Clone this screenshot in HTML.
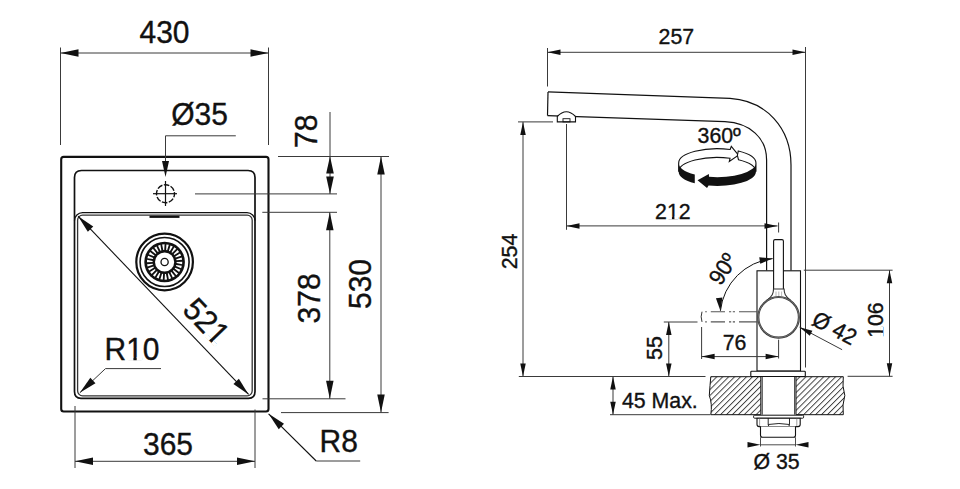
<!DOCTYPE html>
<html><head><meta charset="utf-8"><style>
html,body{margin:0;padding:0;background:#fff;width:960px;height:489px;overflow:hidden}
svg{display:block}
text{font-family:"Liberation Sans",sans-serif;fill:#111;stroke:#111;stroke-width:0.35px}
</style></head><body>
<svg width="960" height="489" viewBox="0 0 960 489">
<line x1="60.5" y1="47.5" x2="60.5" y2="145" stroke="#3a3a3a" stroke-width="1" />
<line x1="268.5" y1="47.5" x2="268.5" y2="145" stroke="#3a3a3a" stroke-width="1" />
<line x1="60.5" y1="53" x2="268.5" y2="53" stroke="#3a3a3a" stroke-width="1" />
<polygon points="60.50,53.00 78.50,49.25 78.50,56.75" fill="#111"/>
<polygon points="268.50,53.00 250.50,56.75 250.50,49.25" fill="#111"/>
<g transform="translate(164.5 42.5) scale(1 1.07)"><text font-size="30" text-anchor="middle" >430</text></g>
<rect x="61.2" y="156.9" width="207.3" height="254.6" rx="2.5" fill="none" stroke="#111" stroke-width="2.1"/>
<path d="M74.5,391.5 L74.5,177.5 Q74.5,170.5 81.5,170.5 L248,170.5 Q255,170.5 255,177.5 L255,391.5 Q255,398.3 248.5,398.3 L81,398.3 Q74.5,398.3 74.5,391.5 Z" fill="none" stroke="#111" stroke-width="1.7"/>
<path d="M74.5,220.6 A8,8 0 0 1 82.5,212.6 L247,212.6 A8,8 0 0 1 255,220.6" fill="none" stroke="#111" stroke-width="1.3"/>
<rect x="77.6" y="215.2" width="174.6" height="180.6" rx="5" fill="none" stroke="#333" stroke-width="1.3"/>
<line x1="149.5" y1="216.8" x2="179.5" y2="216.8" stroke="#111" stroke-width="2.2" />
<circle cx="165.5" cy="193.7" r="9" fill="none" stroke="#111" stroke-width="1.4" stroke-dasharray="5.6 1.47" stroke-dashoffset="2"/>
<line x1="153" y1="193.7" x2="177" y2="193.7" stroke="#111" stroke-width="1.2" />
<line x1="165.5" y1="181" x2="165.5" y2="206" stroke="#111" stroke-width="1.2" />
<line x1="165.5" y1="135.8" x2="235.8" y2="135.8" stroke="#3a3a3a" stroke-width="1" />
<line x1="165.5" y1="135.8" x2="165.5" y2="168" stroke="#3a3a3a" stroke-width="1" />
<polygon points="165.50,177.00 162.00,161.00 169.00,161.00" fill="#111"/>
<g transform="translate(199.5 125) scale(1 1.07)"><text font-size="30" text-anchor="middle" >Ø35</text></g>
<line x1="278" y1="156.5" x2="389" y2="156.5" stroke="#3a3a3a" stroke-width="1" />
<line x1="195" y1="193.9" x2="337" y2="193.9" stroke="#3a3a3a" stroke-width="1" />
<line x1="262.3" y1="212.3" x2="337" y2="212.3" stroke="#3a3a3a" stroke-width="1" />
<line x1="262.5" y1="398.8" x2="345.5" y2="398.8" stroke="#3a3a3a" stroke-width="1" />
<line x1="281" y1="412.6" x2="388.6" y2="412.6" stroke="#3a3a3a" stroke-width="1" />
<line x1="330" y1="112" x2="330" y2="193.9" stroke="#3a3a3a" stroke-width="1" />
<polygon points="330.00,156.30 333.80,173.60 326.20,173.60" fill="#111"/>
<polygon points="330.00,193.90 326.20,176.60 333.80,176.60" fill="#111"/>
<g transform="translate(316.5 131.3) rotate(-90) scale(1 1.07)"><text font-size="30" text-anchor="middle" >78</text></g>
<line x1="329.8" y1="212.3" x2="329.8" y2="398.8" stroke="#3a3a3a" stroke-width="1" />
<polygon points="329.80,212.30 333.55,230.30 326.05,230.30" fill="#111"/>
<polygon points="329.80,398.80 326.05,380.80 333.55,380.80" fill="#111"/>
<g transform="translate(319.5 298.4) rotate(-90) scale(1 1.07)"><text font-size="30" text-anchor="middle" >378</text></g>
<line x1="381" y1="156.5" x2="381" y2="412.6" stroke="#3a3a3a" stroke-width="1" />
<polygon points="381.00,156.50 384.75,174.50 377.25,174.50" fill="#111"/>
<polygon points="381.00,412.60 377.25,394.60 384.75,394.60" fill="#111"/>
<g transform="translate(371 284) rotate(-90) scale(1 1.07)"><text font-size="30" text-anchor="middle" >530</text></g>
<line x1="75" y1="406" x2="75" y2="468" stroke="#3a3a3a" stroke-width="1" />
<line x1="255" y1="409.5" x2="255" y2="468" stroke="#3a3a3a" stroke-width="1" />
<line x1="75" y1="461.3" x2="255" y2="461.3" stroke="#3a3a3a" stroke-width="1" />
<polygon points="75.00,461.30 93.00,457.55 93.00,465.05" fill="#111"/>
<polygon points="255.00,461.30 237.00,465.05 237.00,457.55" fill="#111"/>
<g transform="translate(168 454.5) scale(1 1.07)"><text font-size="30" text-anchor="middle" >365</text></g>
<line x1="268.6" y1="413.8" x2="316.2" y2="461" stroke="#111" stroke-width="1.1" />
<line x1="316.2" y1="461" x2="360.2" y2="461" stroke="#3a3a3a" stroke-width="1" />
<polygon points="268.60,413.80 284.02,423.81 278.74,429.14" fill="#111"/>
<g transform="translate(319.5 451.5) scale(1 1.07)"><text font-size="30" text-anchor="start" >R8</text></g>
<line x1="105.5" y1="368.6" x2="161" y2="368.6" stroke="#3a3a3a" stroke-width="1" />
<line x1="105.5" y1="368.6" x2="79.8" y2="392.8" stroke="#3a3a3a" stroke-width="1" />
<polygon points="79.80,392.80 90.33,377.73 95.48,383.19" fill="#111"/>
<g transform="translate(104.5 360) scale(1 1.07)"><text font-size="30" text-anchor="start" >R10</text><rect x="22.87" y="-2.85" width="6.03" height="3.60" fill="#fff"/><rect x="32.17" y="-2.85" width="5.40" height="3.60" fill="#fff"/></g>
<line x1="78.1" y1="216.2" x2="248.6" y2="394.4" stroke="#111" stroke-width="1.1" />
<polygon points="78.10,216.20 93.25,226.61 87.83,231.80" fill="#111"/>
<polygon points="248.60,394.40 233.45,383.99 238.87,378.80" fill="#111"/>
<g transform="translate(198.5 329) rotate(46.3) scale(1 1.07)"><text font-size="30" text-anchor="middle" >521</text><rect x="9.54" y="-2.85" width="6.03" height="3.60" fill="#fff"/><rect x="18.84" y="-2.85" width="5.40" height="3.60" fill="#fff"/></g>
<circle cx="164.6" cy="262" r="28.3" fill="#fff" stroke="#111" stroke-width="2.2"/>
<circle cx="164.6" cy="262" r="24.5" fill="none" stroke="#111" stroke-width="1.6"/>
<circle cx="164.6" cy="262" r="20.3" fill="#111"/>
<path d="M176.56,263.10 L182.12,264.13 L182.24,261.63 L176.61,262.10ZM175.95,265.93 L181.10,268.26 L181.82,265.86 L176.24,264.97ZM174.68,268.53 L179.12,272.02 L180.39,269.87 L175.19,267.67ZM172.82,270.75 L176.30,275.21 L178.05,273.42 L173.52,270.04ZM170.49,272.47 L172.80,277.62 L174.92,276.31 L171.34,271.94ZM167.81,273.57 L168.82,279.13 L171.20,278.36 L168.76,273.27ZM164.95,274.01 L164.60,279.64 L167.09,279.47 L165.95,273.93ZM162.07,273.74 L160.38,279.13 L162.84,279.56 L163.05,273.91ZM159.33,272.79 L156.40,277.62 L158.69,278.62 L160.25,273.19ZM156.90,271.22 L152.90,275.21 L154.88,276.73 L157.69,271.83ZM154.92,269.11 L150.08,272.02 L151.64,273.97 L155.54,269.89ZM153.50,266.58 L148.10,268.26 L149.15,270.52 L153.92,267.49ZM152.72,263.80 L147.08,264.13 L147.56,266.58 L152.91,264.78ZM152.64,260.90 L147.08,259.87 L146.96,262.37 L152.59,261.90ZM153.25,258.07 L148.10,255.74 L147.38,258.14 L152.96,259.03ZM154.52,255.47 L150.08,251.98 L148.81,254.13 L154.01,256.33ZM156.38,253.25 L152.90,248.79 L151.15,250.58 L155.68,253.96ZM158.71,251.53 L156.40,246.38 L154.28,247.69 L157.86,252.06ZM161.39,250.43 L160.38,244.87 L158.00,245.64 L160.44,250.73ZM164.25,249.99 L164.60,244.36 L162.11,244.53 L163.25,250.07ZM167.13,250.26 L168.82,244.87 L166.36,244.44 L166.15,250.09ZM169.87,251.21 L172.80,246.38 L170.51,245.38 L168.95,250.81ZM172.30,252.78 L176.30,248.79 L174.32,247.27 L171.51,252.17ZM174.28,254.89 L179.12,251.98 L177.56,250.03 L173.66,254.11ZM175.70,257.42 L181.10,255.74 L180.05,253.48 L175.28,256.51ZM176.48,260.20 L182.12,259.87 L181.64,257.42 L176.29,259.22Z" fill="#fff"/>
<circle cx="164.6" cy="262" r="9.6" fill="#fff"/>
<circle cx="164.6" cy="262" r="3.6" fill="none" stroke="#111" stroke-width="1.3"/>
<line x1="547.5" y1="48" x2="547.5" y2="86.5" stroke="#3a3a3a" stroke-width="1" />
<line x1="805.5" y1="47" x2="805.5" y2="367.5" stroke="#3a3a3a" stroke-width="1" />
<line x1="547.5" y1="52.3" x2="805.5" y2="52.3" stroke="#3a3a3a" stroke-width="1" />
<polygon points="547.50,52.30 560.50,49.55 560.50,55.05" fill="#111"/>
<polygon points="805.50,52.30 792.50,55.05 792.50,49.55" fill="#111"/>
<g transform="translate(676.3 44) scale(1 1.07)"><text font-size="21.3" text-anchor="middle" >257</text></g>
<path d="M548,91.9 L730,98.3 C766,100.5 791,128 791,165 L791,270.5" fill="none" stroke="#111" stroke-width="1.2"/>
<path d="M547.5,115.6 L725,121.7 C750,123 766.6,138 766.6,160 L766.6,270.5" fill="none" stroke="#111" stroke-width="1.2"/>
<line x1="548" y1="91.9" x2="547.5" y2="115.6" stroke="#111" stroke-width="1.2" />
<path d="M557.3,121.9 L557.3,116.5 Q566.3,107 575.5,116.5 L575.5,121.9 Z" fill="#fff" stroke="#111" stroke-width="1.1"/>
<rect x="563" y="118.7" width="7" height="3.2" fill="none" stroke="#111" stroke-width="0.9"/>
<line x1="518" y1="121.9" x2="553" y2="121.9" stroke="#3a3a3a" stroke-width="1" />
<line x1="523" y1="121.9" x2="523" y2="376.5" stroke="#3a3a3a" stroke-width="1" />
<polygon points="523.00,121.90 525.75,134.90 520.25,134.90" fill="#111"/>
<polygon points="523.00,376.50 520.25,363.50 525.75,363.50" fill="#111"/>
<g transform="translate(517 251.5) rotate(-90) scale(1 1.07)"><text font-size="21.3" text-anchor="middle" >254</text></g>
<line x1="566.5" y1="124" x2="566.5" y2="229.8" stroke="#3a3a3a" stroke-width="1" />
<line x1="566.5" y1="225.9" x2="777.5" y2="225.9" stroke="#3a3a3a" stroke-width="1" />
<polygon points="566.50,225.90 579.50,223.15 579.50,228.65" fill="#111"/>
<polygon points="777.50,225.90 764.50,228.65 764.50,223.15" fill="#111"/>
<line x1="778.6" y1="222.5" x2="778.6" y2="232.5" stroke="#3a3a3a" stroke-width="1" />
<g transform="translate(672.8 218.8) scale(1 1.07)"><text font-size="21.3" text-anchor="middle" >212</text><rect x="-5.07" y="-2.02" width="4.19" height="2.56" fill="#fff"/><rect x="1.62" y="-2.02" width="3.75" height="2.56" fill="#fff"/></g>
<g transform="translate(719.2 143.4) scale(1 1.07)"><text font-size="21.3" text-anchor="middle" >360º</text></g>
<rect x="757" y="270.8" width="43.5" height="100.2" fill="#fff" stroke="#111" stroke-width="1.1"/>
<path d="M773.6,291 L773.6,241 Q773.6,239.6 775,239.6 L782,239.6 Q783.4,239.6 783.4,241 L783.4,291" fill="#fff" stroke="#111" stroke-width="1.1"/>
<path d="M773.5,289 C773.5,294 772,296 768,299.5 L789.5,299.5 C785.5,296 784.1,294 784.1,289 Z" fill="#fff" stroke="#333" stroke-width="1.1"/>
<line x1="776" y1="291.5" x2="776" y2="296" stroke="#888" stroke-width="0.6" />
<line x1="778.8" y1="291.5" x2="778.8" y2="296" stroke="#888" stroke-width="0.6" />
<line x1="781.6" y1="291.5" x2="781.6" y2="296" stroke="#888" stroke-width="0.6" />
<circle cx="778.6" cy="317.3" r="20.3" fill="#fff" stroke="#333" stroke-width="2.1"/>
<circle cx="778.6" cy="317.3" r="20.3" fill="none" stroke="#aaa" stroke-width="0.5"/>
<path d="M757.5,311.7 L703,311.7" fill="none" stroke="#555" stroke-width="1.1" stroke-dasharray="18.5 4 2.2 1.6 2.2 4 14.2 4 1.6 100"/>
<path d="M757.5,321.9 L703,321.9" fill="none" stroke="#555" stroke-width="1.1" stroke-dasharray="18.5 4 2.2 1.6 2.2 4 14.2 4 1.6 100"/>
<path d="M702,311.7 Q700.3,316.8 702,321.9" fill="none" stroke="#333" stroke-width="1"/>
<path d="M772.6,258.6 A59,59 0 0 0 720.4,310.8" fill="none" stroke="#111" stroke-width="1"/>
<polygon points="772.60,258.60 760.23,263.75 759.26,257.32" fill="#111"/>
<polygon points="720.40,310.80 715.95,298.16 722.42,297.55" fill="#111"/>
<g transform="translate(729.3 273.2) rotate(-57) scale(1 1.07)"><text font-size="21.3" text-anchor="middle" >90º</text></g>
<line x1="701.6" y1="327" x2="701.6" y2="359" stroke="#3a3a3a" stroke-width="1" />
<line x1="778.6" y1="339.7" x2="778.6" y2="358.5" stroke="#3a3a3a" stroke-width="1" />
<line x1="701.6" y1="356.6" x2="778.6" y2="356.6" stroke="#3a3a3a" stroke-width="1" />
<polygon points="701.60,356.60 714.60,353.85 714.60,359.35" fill="#111"/>
<polygon points="778.60,356.60 765.60,359.35 765.60,353.85" fill="#111"/>
<g transform="translate(734.6 350) scale(1 1.07)"><text font-size="21.3" text-anchor="middle" >76</text></g>
<line x1="663.8" y1="322" x2="697.5" y2="322" stroke="#3a3a3a" stroke-width="1" />
<line x1="668.8" y1="322" x2="668.8" y2="376.5" stroke="#3a3a3a" stroke-width="1" />
<polygon points="668.80,322.00 671.55,335.00 666.05,335.00" fill="#111"/>
<polygon points="668.80,376.50 666.05,363.50 671.55,363.50" fill="#111"/>
<g transform="translate(662 348.1) rotate(-90) scale(1 1.07)"><text font-size="21.3" text-anchor="middle" >55</text></g>
<line x1="518.8" y1="376.5" x2="705.5" y2="376.5" stroke="#3a3a3a" stroke-width="1" />
<line x1="847.6" y1="376.3" x2="892.6" y2="376.3" stroke="#3a3a3a" stroke-width="1" />
<line x1="610" y1="414.7" x2="710.3" y2="414.7" stroke="#3a3a3a" stroke-width="1" />
<line x1="613" y1="376.5" x2="613" y2="414.7" stroke="#3a3a3a" stroke-width="1" />
<polygon points="613.00,376.50 615.75,389.50 610.25,389.50" fill="#111"/>
<polygon points="613.00,414.70 610.25,401.70 615.75,401.70" fill="#111"/>
<g transform="translate(622 407.5) scale(1 1.07)"><text font-size="21.3" text-anchor="start" >45 Max.</text></g>
<defs><pattern id="h" patternUnits="userSpaceOnUse" width="4.2" height="4.2" patternTransform="rotate(45)"><line x1="0.5" y1="0" x2="0.5" y2="4.2" stroke="#333" stroke-width="0.9"/></pattern></defs>
<path d="M710.8,376.7 L760.8,376.7 L760.8,414.7 L710.8,414.7 Q712.5,404 709.3,395.5 Q710,385 710.8,376.7 Z" fill="url(#h)" stroke="#111" stroke-width="1"/>
<path d="M796,376.7 L843.3,376.7 Q842,386 844.8,395.5 Q842,405 843.3,414.7 L796,414.7 Z" fill="url(#h)" stroke="#111" stroke-width="1"/>
<line x1="762.2" y1="376.7" x2="762.2" y2="414.7" stroke="#111" stroke-width="0.9" />
<line x1="794.7" y1="376.7" x2="794.7" y2="414.7" stroke="#111" stroke-width="0.9" />
<rect x="750.8" y="371.3" width="54.5" height="5.2" rx="0.8" fill="#fff" stroke="#111" stroke-width="1.1"/>
<rect x="753.6" y="415.2" width="50" height="3" rx="1" fill="#fff" stroke="#111" stroke-width="1"/>
<path d="M757,418.2 L800.2,418.2 L800.2,424.6 Q800.2,426.6 798,426.6 L759.2,426.6 Q757,426.6 757,424.6 Z" fill="#fff" stroke="#111" stroke-width="1.1"/>
<path d="M768.2,418.2 L768.2,424.6 Q768.2,426.6 770,426.6 M789.5,418.2 L789.5,424.6 Q789.5,426.6 787.7,426.6 M768.2,424.5 Q779,422.5 789.5,424.5" fill="none" stroke="#111" stroke-width="0.9"/>
<line x1="759.6" y1="418.6" x2="759.6" y2="426.2" stroke="#777" stroke-width="0.7" />
<line x1="796.8" y1="418.6" x2="796.8" y2="426.2" stroke="#777" stroke-width="0.7" />
<path d="M760.5,426.6 L760.5,435.3 Q760.5,437.3 762.5,437.3 L793.5,437.3 Q795.5,437.3 795.5,435.3 L795.5,426.6" fill="#fff" stroke="#111" stroke-width="1.1"/>
<line x1="760.5" y1="437.3" x2="760.5" y2="446.5" stroke="#3a3a3a" stroke-width="0.9" />
<line x1="795.5" y1="437.3" x2="795.5" y2="446.5" stroke="#3a3a3a" stroke-width="0.9" />
<line x1="760.5" y1="444.8" x2="795.5" y2="444.8" stroke="#3a3a3a" stroke-width="0.9" />
<polygon points="760.50,444.80 747.50,447.55 747.50,442.05" fill="#111"/>
<polygon points="795.50,444.80 808.50,442.05 808.50,447.55" fill="#111"/>
<g transform="translate(776.6 468.7) scale(1 1.07)"><text font-size="21.3" text-anchor="middle" >Ø 35</text></g>
<line x1="799.6" y1="327.2" x2="842.1" y2="349.7" stroke="#3a3a3a" stroke-width="1" />
<polygon points="799.60,327.20 812.38,330.85 809.80,335.71" fill="#111"/>
<g transform="translate(831 335) rotate(28) scale(1 1.07)"><text font-size="21.3" text-anchor="middle" >Ø 42</text></g>
<line x1="803.8" y1="270.2" x2="892.6" y2="270.2" stroke="#3a3a3a" stroke-width="1" />
<line x1="889.5" y1="270.2" x2="889.5" y2="376.3" stroke="#3a3a3a" stroke-width="1" />
<polygon points="889.50,270.20 892.25,283.20 886.75,283.20" fill="#111"/>
<polygon points="889.50,376.30 886.75,363.30 892.25,363.30" fill="#111"/>
<g transform="translate(882.6 320.1) rotate(-90) scale(1 1.07)"><text font-size="21.3" text-anchor="middle" >106</text><rect x="-16.92" y="-2.02" width="4.19" height="2.56" fill="#fff"/><rect x="-10.23" y="-2.02" width="3.75" height="2.56" fill="#fff"/></g>
<g transform="translate(675 145) scale(0.092)">
<path d="M40,195 A420,155 0 0 1 600,49 L612,15 L690,110 L590,180 L598,144 A420,155 0 0 0 40,290 Z" fill="#fff" stroke="#111" stroke-width="12" stroke-linejoin="miter"/>
<path d="M688,65 A420,155 0 0 1 880,195 L880,290 A420,155 0 0 0 690,160 L678,112 Z" fill="#fff" stroke="#111" stroke-width="12"/>
<path d="M880,195 L880,290 A420,155 0 0 1 365,441 L348,468 L245,383 L368,315 L370,346 A420,155 0 0 0 880,195 Z" fill="#111"/>
<path d="M40,195 A420,155 0 0 0 215,321 L215,416 A420,155 0 0 1 40,290 Z" fill="#111"/>
</g>
</svg></body></html>
